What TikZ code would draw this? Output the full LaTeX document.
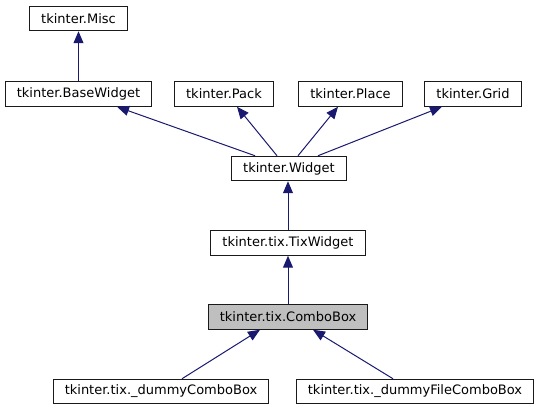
\documentclass[tikz,border=0pt]{standalone}
\usepackage{fontspec}
\setmainfont{DejaVu Sans}
\usetikzlibrary{arrows.meta}
\definecolor{edgeblue}{HTML}{191970}
\definecolor{boxline}{HTML}{1A1A1A}
\definecolor{curfill}{HTML}{BFBFBF}
\begin{document}
\begin{tikzpicture}[x=1pt,y=-1pt,
  cls/.style={draw=boxline,line width=1pt,fill=white,rectangle,minimum height=24.5pt,inner xsep=11.5pt,inner ysep=0pt,font=\fontsize{13}{15}\selectfont,text=black},
  cur/.style={cls,fill=curfill},
  inh/.style={edgeblue,line width=1pt,-{Triangle[length=12pt,width=10pt]}}]
\useasboundingbox (0,0) rectangle (540,411);
\node[cls] (misc) at (78.5,18.5) {tkinter.Misc};
\node[cls] (bw) at (78.5,94) {tkinter.BaseWidget};
\node[cls] (pack) at (224,94) {tkinter.Pack};
\node[cls] (place) at (350.5,94) {tkinter.Place};
\node[cls] (grid) at (473,94) {tkinter.Grid};
\node[cls] (w) at (289,168.5) {tkinter.Widget};
\node[cls] (tw) at (288,243) {tkinter.tix.TixWidget};
\node[cur] (cb) at (288,317) {tkinter.tix.ComboBox};
\node[cls] (dcb) at (161,391.5) {tkinter.tix.\_dummyComboBox};
\node[cls] (dfcb) at (415,391.5) {tkinter.tix.\_dummyFileComboBox};
\draw[inh] (bw) -- (misc);
\draw[inh] ([xshift=-34pt]w.north) -- ([xshift=38.5pt]bw.south);
\draw[inh] ([xshift=-12pt]w.north) -- ([xshift=13pt]pack.south);
\draw[inh] ([xshift=9pt]w.north) -- ([xshift=-12.5pt]place.south);
\draw[inh] ([xshift=29pt]w.north) -- ([xshift=-31pt]grid.south);
\draw[inh] (tw.north) -- (tw.north |- w.south);
\draw[inh] (cb.north) -- (cb.north |- tw.south);
\draw[inh] ([xshift=21pt]dcb.north) -- ([xshift=-28pt]cb.south);
\draw[inh] ([xshift=-22pt]dfcb.north) -- ([xshift=25pt]cb.south);
\end{tikzpicture}
\end{document}
